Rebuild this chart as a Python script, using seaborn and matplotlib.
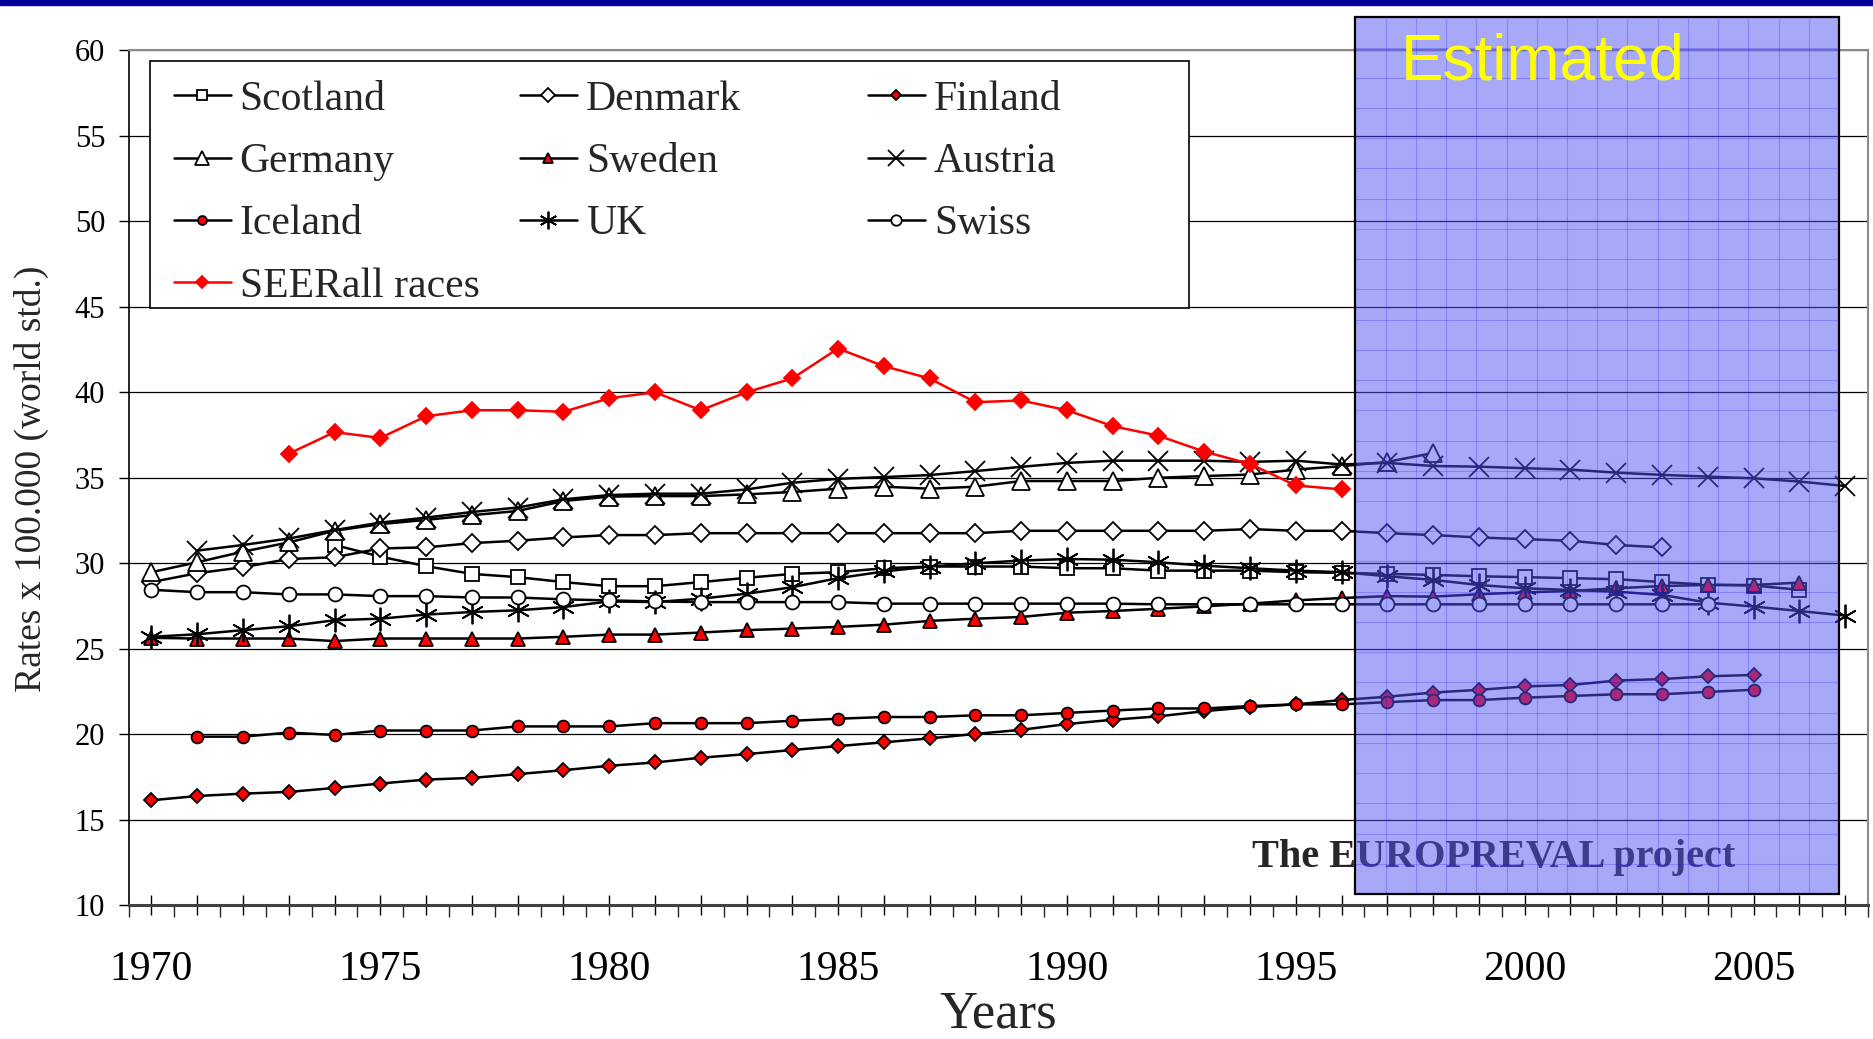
import numpy as np
import pandas as pd
import matplotlib.pyplot as plt
import matplotlib.patches as mpatches
from matplotlib.ticker import FixedLocator, FuncFormatter
import seaborn as sns

### values (rates x 100.000, world std.), one per year from the start year
scotland_start = 1974
scotland = [31.07, 30.39, 29.83, 29.38, 29.19, 28.90,
            28.66, 28.66, 28.90, 29.15, 29.38, 29.48, 29.71, 29.81, 29.81, 29.81,
            29.71, 29.71, 29.57, 29.57, 29.57, 29.48, 29.44, 29.38, 29.32, 29.24,
            29.19, 29.13, 29.07, 28.90, 28.75, 28.70, 28.45]

denmark_start = 1970
denmark = [28.90, 29.42, 29.77, 30.25, 30.35, 30.87, 30.93, 31.18, 31.32, 31.51,
           31.65, 31.65, 31.76, 31.76, 31.76, 31.76, 31.76, 31.76, 31.76, 31.90,
           31.90, 31.90, 31.90, 31.90, 32.00, 31.90, 31.90, 31.76, 31.65, 31.51,
           31.41, 31.32, 31.07, 30.93]

finland_start = 1970
finland = [16.14, 16.39, 16.53, 16.63, 16.86, 17.12, 17.35, 17.45, 17.67, 17.90,
           18.16, 18.35, 18.63, 18.84, 19.08, 19.31, 19.53, 19.76, 20.02, 20.26,
           20.60, 20.85, 21.05, 21.35, 21.59, 21.75, 22.00, 22.20, 22.44, 22.60,
           22.80, 22.88, 23.14, 23.23, 23.39, 23.47]

germany_start = 1970
germany = [29.48, 30.06, 30.68, 31.22, 31.90, 32.29, 32.54, 32.81, 33.06, 33.64,
           33.90, 33.93, 33.93, 34.03, 34.17, 34.36, 34.48, 34.36, 34.48, 34.81,
           34.81, 34.81, 35.00, 35.10, 35.19, 35.48, 35.68, 35.93, 36.45]

sweden_start = 1970
sweden = [25.64, 25.60, 25.60, 25.60, 25.45, 25.60, 25.60, 25.60, 25.60, 25.70,
          25.83, 25.83, 25.95, 26.09, 26.18, 26.28, 26.41, 26.63, 26.76, 26.86,
          27.11, 27.21, 27.34, 27.48, 27.64, 27.83, 27.97, 28.08, 28.05, 28.19,
          28.30, 28.38, 28.54, 28.67, 28.73, 28.73, 28.87]

austria_start = 1971
austria = [30.74, 31.07, 31.45, 31.94, 32.38, 32.67, 33.00, 33.26, 33.74,
           33.99, 34.07, 34.07, 34.32, 34.71, 34.94, 35.04, 35.16, 35.39, 35.64,
           35.87, 36.00, 36.00, 36.00, 35.93, 36.00, 35.78, 35.87, 35.69, 35.65,
           35.56, 35.48, 35.30, 35.17, 35.07, 34.97, 34.78, 34.52]

iceland_start = 1971
iceland = [19.86, 19.86, 20.10, 19.96, 20.22, 20.22, 20.22, 20.46, 20.46,
           20.46, 20.65, 20.65, 20.65, 20.79, 20.91, 21.01, 21.01, 21.11, 21.11,
           21.25, 21.39, 21.51, 21.51, 21.65, 21.75, 21.75, 21.88, 22.00, 22.00,
           22.14, 22.24, 22.34, 22.34, 22.48, 22.60]

uk_start = 1970
uk = [25.70, 25.85, 26.09, 26.32, 26.67, 26.76, 27.00, 27.15, 27.25, 27.44,
      27.77, 27.73, 27.93, 28.22, 28.60, 29.13, 29.52, 29.81, 30.00, 30.16,
      30.25, 30.21, 30.06, 29.86, 29.71, 29.57, 29.48, 29.24, 29.03, 28.73,
      28.54, 28.44, 28.34, 28.15, 27.70, 27.47, 27.21, 26.94]

swiss_start = 1970
swiss = [28.45, 28.31, 28.31, 28.18, 28.18, 28.08, 28.08, 28.00, 28.00, 27.89,
         27.83, 27.77, 27.73, 27.73, 27.73, 27.73, 27.64, 27.64, 27.64, 27.64,
         27.64, 27.64, 27.60, 27.60, 27.60, 27.60, 27.60, 27.60, 27.60, 27.60,
         27.60, 27.60, 27.60, 27.60, 27.60]

seer_start = 1973
seer = [36.41, 37.67, 37.33, 38.60, 38.95, 38.95, 38.86,
        39.65, 40.00, 38.95, 40.00, 40.81, 42.56, 41.53, 40.81, 39.42, 39.52,
        38.95, 38.02, 37.46, 36.53, 35.81, 34.55, 34.32]

# estimated period (shaded box)
est_from, est_to = 1996.3, 2006.87
year_labels = [1970, 1975, 1980, 1985, 1990, 1995, 2000, 2005]
y_ticks = [10, 15, 20, 25, 30, 35, 40, 45, 50, 55, 60]

# name, start, values, marker, size, face, line colour
series = [
    ("Scotland", scotland_start, scotland, "s", 9.5, "white", "black"),
    ("Denmark", denmark_start, denmark, "D", 9.5, "white", "black"),
    ("Finland", finland_start, finland, "D", 6.8, "red", "black"),
    ("Germany", germany_start, germany, "^", 12.5, "white", "black"),
    ("Sweden", sweden_start, sweden, "^", 10.5, "red", "black"),
    ("Austria", austria_start, austria, "x", 14.5, "none", "black"),
    ("Iceland", iceland_start, iceland, "o", 8.5, "red", "black"),
    ("UK", uk_start, uk, (6, 2, 0), 17, "none", "black"),
    ("Swiss", swiss_start, swiss, "o", 10, "white", "black"),
    ("SEERall races", seer_start, seer, "D", 8.0, "red", "red"),
]

sns.set_style("white")
plt.rcParams['font.family'] = ['Liberation Serif', 'DejaVu Serif']

fig = plt.figure(figsize=(18.74, 10.39), dpi=100)
ax = fig.add_axes([0.0686, 0.1287, 0.9282, 0.8229])

handles = {}
for name, start, vals, mk, ms, face, col in series:
    df = pd.DataFrame({"Year": np.arange(start, start + len(vals)), "Rate": vals})
    sns.lineplot(data=df, x="Year", y="Rate", ax=ax, color=col, linewidth=1.8,
                 marker=mk, markersize=ms, markerfacecolor=face,
                 markeredgecolor=col, markeredgewidth=1.3,
                 errorbar=None, legend=False, zorder=3)
    handles[name] = ax.lines[-1]

ax.set_xlim(1969.5, 2007.5)
ax.set_ylim(10, 60)

# ticks
ax.xaxis.set_major_locator(FixedLocator(np.arange(1970, 2008)))
ax.xaxis.set_minor_locator(FixedLocator(np.arange(1969.5, 2008, 1.0)))
ax.xaxis.set_major_formatter(FuncFormatter(lambda v, p: str(int(round(v))) if int(round(v)) in year_labels else ""))
ax.yaxis.set_major_locator(FixedLocator(y_ticks))
ax.tick_params(axis="x", which="major", direction="inout", length=15, width=1,
               pad=25, labelsize=30, colors="black", bottom=True)
ax.tick_params(axis="x", which="minor", direction="out", length=8.5, width=1, bottom=True)
ax.tick_params(axis="y", direction="out", length=7, width=1, pad=9.8,
               labelsize=22, colors="black", left=True)

ax.yaxis.grid(True, color="black", lw=0.9)
ax.xaxis.grid(False)
ax.set_axisbelow(True)
ax.spines["left"].set_color("black")
ax.spines["left"].set_linewidth(1.2)
ax.spines["bottom"].set_color("#404040")
ax.spines["bottom"].set_linewidth(2.2)
for s in ["top", "right"]:
    ax.spines[s].set_color("#8c8c8c")
    ax.spines[s].set_linewidth(1.5)

ax.set_xlabel("")
ax.set_ylabel("")
fig.text(998 / 1874, 12 / 1039, "Years", fontsize=38, ha="center", va="baseline")
fig.text(0.0168, 0.539, "Rates x 100.000 (world std.)", fontsize=27,
         rotation=90, ha="center", va="center")

# legend: three columns inside one frame
frame = mpatches.Rectangle((0.0802, 0.7038), 0.5543, 0.2377, transform=fig.transFigure,
                           facecolor="white", edgecolor="black", lw=1.2,
                           zorder=4, clip_on=False)
ax.add_patch(frame)
columns = [(["Scotland", "Germany", "Iceland", "SEERall races"], 0.0928),
           (["Denmark", "Sweden", "UK"], 0.2775),
           (["Finland", "Austria", "Swiss"], 0.4632)]
for i, (names, x0) in enumerate(columns):
    leg = ax.legend([handles[n] for n in names], names, loc="upper left",
                    bbox_to_anchor=(x0, 0.9226), bbox_transform=fig.transFigure,
                    frameon=False, fontsize=30, handlelength=1.36, handletextpad=0.22,
                    labelspacing=0.57, borderpad=0, borderaxespad=0, markerscale=0.75)
    leg.set_zorder(5)
    if i < len(columns) - 1:
        ax.add_artist(leg)

# project label (under the shaded box)
ax.text(0.9258, 1 - 867 / 1039, "The EUROPREVAL project", transform=fig.transFigure,
        fontsize=29, fontweight="bold", ha="right", va="baseline", zorder=9, clip_on=False)

# shaded estimated period
y_lo, y_hi = 10.66, 61.93
ax.add_patch(mpatches.Rectangle((est_from, y_lo), est_to - est_from, y_hi - y_lo,
                                facecolor=(0.32, 0.32, 0.96, 0.5), edgecolor="black",
                                lw=1.6, zorder=10, clip_on=False))
ax.vlines(np.linspace(est_from, est_to, 17)[1:-1], y_lo, y_hi, colors=[(0, 0, 1, 0.22)],
          lw=0.8, zorder=10.5, clip_on=False)
ax.hlines(np.linspace(y_lo, y_hi, 30)[1:-1], est_from, est_to, colors=[(0, 0, 1, 0.22)],
          lw=0.8, zorder=10.5, clip_on=False)

fig.text(1401 / 1874, 1 - 80 / 1039, "Estimated", family="Liberation Sans",
         fontsize=46, color="#ffff00", ha="left", va="baseline")

# navy band on top
fig.add_artist(mpatches.Rectangle((0, 1 - 5 / 1039), 1, 5 / 1039, transform=fig.transFigure,
                                  color="#000099", zorder=20))

plt.savefig("out.png", dpi=100)
